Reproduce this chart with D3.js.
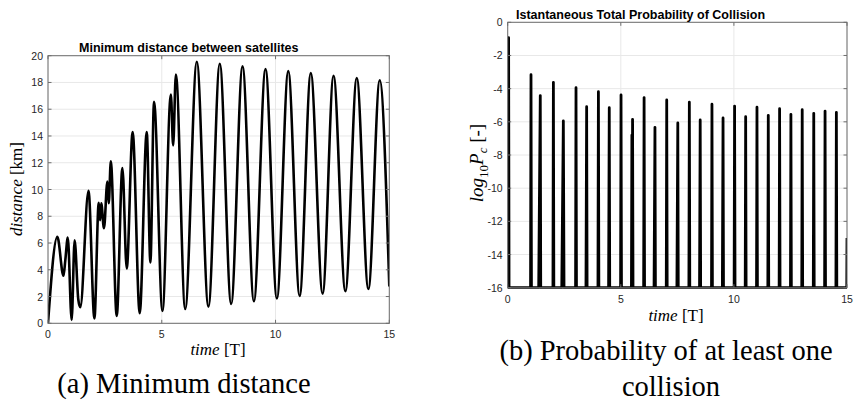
<!DOCTYPE html>
<html>
<head>
<meta charset="utf-8">
<script src="https://cdn.jsdelivr.net/npm/d3@7"></script>
<style>
  body { margin: 0; background: #fff; }
  svg { display: block; }
  .tick-label { font-family: "Liberation Sans", Arial, sans-serif; font-size: 10.5px; fill: #262626; }
  .title { font-family: "Liberation Sans", Arial, sans-serif; font-size: 12.5px; font-weight: bold; fill: #000; }
  .math { font-family: "Liberation Serif", "Times New Roman", serif; fill: #000; }
  .caption { font-family: "Liberation Serif", "Times New Roman", serif; font-size: 28.5px; fill: #000; }
</style>
</head>
<body>
<svg id="fig" width="855" height="412"></svg>
<script>
// Minimum distance between the satellites [km] against time [T]
const distTime  = [0, 0.41, 0.68, 0.76, 0.87, 1.04, 1.17, 1.33, 1.42, 1.78, 2.04, 2.23, 2.29, 2.34, 2.46, 2.61, 2.67, 2.76,
                   3.02, 3.27, 3.46, 3.72, 4.03, 4.34, 4.50, 4.66, 5.03, 5.40, 5.50, 5.62, 6.03, 6.54, 7.05, 7.55,
                   8.05, 8.55, 9.05, 9.56, 10.06, 10.56, 11.06, 11.55, 12.07, 12.55, 13.07, 13.57, 14.08, 14.58, 15];
const distValue = [0, 6.47, 3.55, 4.7, 6.4, 0.25, 6.2, 1.8, 1.2, 9.9, 0.37, 9.0, 7.7, 8.97, 7.1, 10.6, 8.97, 12.1,
                   0.55, 11.6, 4.1, 14.3, 0.75, 14.3, 4.55, 16.55, 0.92, 17.1, 13.3, 18.6, 1.07, 19.55, 1.25, 19.4,
                   1.45, 19.2, 1.65, 19.0, 1.85, 18.85, 2.05, 18.7, 2.22, 18.5, 2.4, 18.33, 2.56, 18.16, 2.75];

// Instantaneous total probability of collision, log10 Pc, floored at -16
const pcTime = [0, 0.02, 0.04, 0.06,
                1.01, 1.03, 1.05,  1.37, 1.44, 1.46,  2.00, 2.02, 2.04,  2.39, 2.46, 2.49,
                3.00, 3.02, 3.04,  3.46, 3.49, 3.51,  3.99, 4.01, 4.03,  4.46, 4.49, 4.51,
                4.99, 5.01, 5.03,  5.47, 5.49, 5.50, 5.52, 5.54,  6.01, 6.03, 6.05,  6.47, 6.51, 6.53,
                7.01, 7.03, 7.05,  7.48, 7.52, 7.54,  8.01, 8.03, 8.05,  8.48, 8.51, 8.53,
                9.01, 9.03, 9.05,  9.49, 9.52, 9.54,  10.01, 10.03, 10.05,  10.50, 10.52, 10.54,
                11.00, 11.02, 11.04,  11.50, 11.52, 11.54,  12.00, 12.02, 12.04,  12.50, 12.52, 12.54,
                13.00, 13.02, 13.04,  13.51, 13.53, 13.55,  14.01, 14.03, 14.05,  14.51, 14.53, 14.55,
                14.99, 15];
const pcLog  = [-15.2, -16, -0.93, -16,
                -16, -3.16, -16,  -16, -4.42, -16,  -16, -3.62, -16,  -16, -5.95, -16,
                -16, -3.94, -16,  -16, -5.09, -16,  -16, -4.18, -16,  -16, -5.15, -16,
                -16, -4.38, -16,  -16, -6.8, -16, -5.85, -16,  -16, -4.54, -16,  -16, -6.33, -16,
                -16, -4.68, -16,  -16, -6.07, -16,  -16, -4.82, -16,  -16, -5.89, -16,
                -16, -4.94, -16,  -16, -5.77, -16,  -16, -5.05, -16,  -16, -5.69, -16,
                -16, -5.12, -16,  -16, -5.61, -16,  -16, -5.21, -16,  -16, -5.55, -16,
                -16, -5.27, -16,  -16, -5.49, -16,  -16, -5.35, -16,  -16, -5.43, -16,
                -16, -13.0];

const timeTicks = [0, 5, 10, 15];
const distTicks = [0, 2, 4, 6, 8, 10, 12, 14, 16, 18, 20];
const pcTicks   = [-16, -14, -12, -10, -8, -6, -4, -2, 0];

const svg = d3.select("#fig");

function drawPanel(cfg) {
  const x = d3.scaleLinear().domain([0, 15]).range([cfg.left, cfg.right]);
  const y = d3.scaleLinear().domain(cfg.yDomain).range([cfg.bottom, cfg.top]);
  const g = svg.append("g");
  const tickLen = 3.5;

  // grid
  g.append("g").selectAll("line").data(cfg.yTicks).join("line")
    .attr("x1", cfg.left).attr("x2", cfg.right)
    .attr("y1", d => y(d)).attr("y2", d => y(d))
    .attr("stroke", "#e8e8e8").attr("stroke-width", 1);
  g.append("g").selectAll("line").data(timeTicks).join("line")
    .attr("y1", cfg.top).attr("y2", cfg.bottom)
    .attr("x1", d => x(d)).attr("x2", d => x(d))
    .attr("stroke", "#e8e8e8").attr("stroke-width", 1);

  // data line
  const clipId = "clip-" + cfg.id;
  svg.append("clipPath").attr("id", clipId).append("rect")
    .attr("x", cfg.left).attr("y", cfg.top - 1)
    .attr("width", cfg.right - cfg.left).attr("height", cfg.bottom - cfg.top + 2);
  const pts = cfg.xs.map((t, i) => [t, cfg.ys[i]]);
  const line = d3.line().x(d => x(d[0])).y(d => y(d[1])).curve(cfg.curve);
  g.append("path").datum(pts)
    .attr("clip-path", `url(#${clipId})`)
    .attr("d", line)
    .attr("fill", "none").attr("stroke", "#000")
    .attr("stroke-width", cfg.lineWidth)
    .attr("stroke-linejoin", "round");

  // box and ticks
  const axisColor = "#6e6e6e";
  g.append("rect").attr("x", cfg.left).attr("y", cfg.top)
    .attr("width", cfg.right - cfg.left).attr("height", cfg.bottom - cfg.top)
    .attr("fill", "none").attr("stroke", axisColor).attr("stroke-width", 1);
  const ticks = g.append("g").attr("stroke", axisColor).attr("stroke-width", 1);
  cfg.yTicks.forEach(v => {
    ticks.append("line").attr("x1", cfg.left).attr("x2", cfg.left + tickLen).attr("y1", y(v)).attr("y2", y(v));
    ticks.append("line").attr("x1", cfg.right).attr("x2", cfg.right - tickLen).attr("y1", y(v)).attr("y2", y(v));
  });
  timeTicks.forEach(v => {
    ticks.append("line").attr("y1", cfg.bottom).attr("y2", cfg.bottom - tickLen).attr("x1", x(v)).attr("x2", x(v));
    ticks.append("line").attr("y1", cfg.top).attr("y2", cfg.top + tickLen).attr("x1", x(v)).attr("x2", x(v));
  });

  // tick labels
  g.append("g").selectAll("text").data(cfg.yTicks).join("text")
    .attr("class", "tick-label")
    .attr("x", cfg.left - 5).attr("y", d => y(d))
    .attr("text-anchor", "end").attr("dominant-baseline", "central")
    .text(d => d);
  g.append("g").selectAll("text").data(timeTicks).join("text")
    .attr("class", "tick-label")
    .attr("x", d => x(d)).attr("y", cfg.bottom + 11)
    .attr("text-anchor", "middle").attr("dominant-baseline", "central")
    .text(d => d);

  // title
  g.append("text").attr("class", "title")
    .attr("x", cfg.titleX).attr("y", cfg.titleY)
    .text(cfg.title);

  return { x, y, g };
}

// (a) distance panel
drawPanel({
  id: "a", left: 48, right: 389.3, top: 55.7, bottom: 323.3,
  yDomain: [0, 20], yTicks: distTicks,
  xs: distTime, ys: distValue, curve: d3.curveMonotoneX, lineWidth: 2.6,
  title: "Minimum distance between satellites", titleX: 79, titleY: 51.5
});

// (b) probability panel
drawPanel({
  id: "b", left: 507.7, right: 847, top: 22.3, bottom: 287.7,
  yDomain: [-16, 0], yTicks: pcTicks,
  xs: pcTime, ys: pcLog, curve: d3.curveLinear, lineWidth: 2.8,
  title: "Istantaneous Total Probability of Collision", titleX: 516, titleY: 19
});

// axis labels (math style)
function timeLabel(cx, cy) {
  const t = svg.append("text").attr("class", "math").attr("font-size", 17)
    .attr("x", cx).attr("y", cy).attr("text-anchor", "middle");
  t.append("tspan").attr("font-style", "italic").text("time");
  t.append("tspan").text(" [T]");
}
timeLabel(218, 355);
timeLabel(676, 321);

const yla = svg.append("text").attr("class", "math").attr("font-size", 17)
  .attr("transform", "translate(22,189) rotate(-90)").attr("text-anchor", "middle");
yla.append("tspan").attr("font-style", "italic").text("distance");
yla.append("tspan").text(" [km]");

const ylb = svg.append("text").attr("class", "math").attr("font-size", 19)
  .attr("transform", "translate(483,163) rotate(-90)").attr("text-anchor", "middle");
ylb.append("tspan").attr("font-style", "italic").text("log");
ylb.append("tspan").attr("font-size", 13).attr("dy", 5).text("10");
ylb.append("tspan").attr("font-style", "italic").attr("dy", -5).text("P");
ylb.append("tspan").attr("font-style", "italic").attr("font-size", 13).attr("dy", 4).text("c");
ylb.append("tspan").attr("dy", -4).text(" [-]");

// sub-figure captions
svg.append("text").attr("class", "caption").attr("x", 184).attr("y", 393)
  .attr("text-anchor", "middle").text("(a) Minimum distance");
svg.append("text").attr("class", "caption").attr("x", 666).attr("y", 360)
  .attr("text-anchor", "middle").text("(b) Probability of at least one");
svg.append("text").attr("class", "caption").attr("x", 671).attr("y", 396)
  .attr("text-anchor", "middle").text("collision");
</script>
</body>
</html>
